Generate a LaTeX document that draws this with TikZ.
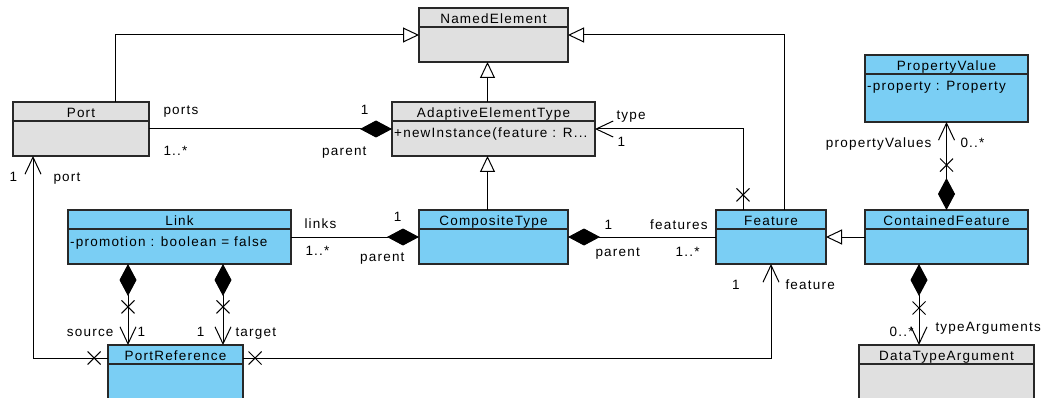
\documentclass[tikz,border=0pt]{standalone}
\usepackage{fontspec}
\setmainfont{Liberation Sans}[LetterSpace=9]
\usepackage{xcolor}
\usetikzlibrary{arrows.meta,positioning,shapes.misc}
\definecolor{classblue}{RGB}{122,206,244}
\definecolor{classgray}{RGB}{224,224,224}
\definecolor{edgegray}{RGB}{40,40,40}
\newcommand{\umlfont}{\fontsize{13.5pt}{15pt}\selectfont}
\tikzset{%
	umlclass/.style   = {draw=edgegray, line width=1.3pt, rectangle, anchor=north west, inner sep=0pt, outer sep=0pt, minimum height=54pt,
		path picture={\draw[edgegray, line width=1.3pt] ([yshift=-19pt]path picture bounding box.north west) -- ([yshift=-19pt]path picture bounding box.north east);}}, % Class box
	blueclass/.style  = {umlclass, fill=classblue},
	grayclass/.style  = {umlclass, fill=classgray},
	classtitle/.style = {anchor=base, yshift=-15.5pt, inner sep=0pt}, % Class name
	classattr/.style  = {anchor=base west, xshift=2pt, yshift=-36pt, inner sep=0pt}, % Attribute
	lbl/.style        = {inner sep=0pt}, % Role and multiplicity
	xmark/.style      = {draw, cross out, minimum size=12pt, inner sep=0pt, line width=1pt}, % Not navigable
	gen/.style        = {line width=1pt, -{Triangle[length=16pt, width=15pt, fill=white]}}, % Generalization
	comp/.style       = {line width=1pt, -{Diamond[length=32pt, width=17pt]}}, % Composition
	comprev/.style    = {line width=1pt, {Diamond[length=32pt, width=17pt]}-}, % Composition
	compnav/.style    = {line width=1pt, {Diamond[length=32pt, width=17pt]}-{Straight Barb[length=17pt, width=16pt]}},
	nav/.style        = {line width=1pt, -{Straight Barb[length=17pt, width=16pt]}}, % Association
}

\begin{document}
\begin{tikzpicture}[x=1pt, y=-1pt, font=\umlfont]
	\useasboundingbox (0,0) rectangle (1048,398);
	% classes
	\node[grayclass, minimum width=149pt, label={[classtitle]north:NamedElement}] (named) at (419,8) {};
	\node[grayclass, minimum width=136pt, label={[classtitle]north:Port}] (port) at (13,102) {};
	\node[grayclass, minimum width=203pt, label={[classtitle]north:AdaptiveElementType}, label={[classattr]north west:{+newInstance(feature : R...}}] (aet) at (392,102) {};
	\node[blueclass, minimum width=149pt, label={[classtitle]north:CompositeType}] (composite) at (419,210) {};
	\node[blueclass, minimum width=110pt, label={[classtitle]north:Feature}] (feature) at (716,210) {};
	\node[blueclass, minimum width=163pt, label={[classtitle]north:ContainedFeature}] (contained) at (865,210) {};
	\node[blueclass, minimum width=163pt, minimum height=67pt, label={[classtitle]north:PropertyValue}, label={[classattr]north west:{-property : Property}}] (propval) at (865,55) {};
	\node[grayclass, minimum width=175pt, minimum height=57pt, label={[classtitle]north:DataTypeArgument}] (dtarg) at (859,345) {};
	\node[blueclass, minimum width=223pt, label={[classtitle]north:Link}, label={[classattr]north west:{-promotion : boolean = false}}] (link) at (68,210) {};
	\node[blueclass, minimum width=135pt, minimum height=57pt, label={[classtitle]north:PortReference}] (portref) at (108,345) {};
	% generalizations
	\draw[gen] ([xshift=34pt]port.north) |- (named.west);
	\draw[gen] ([xshift=13pt]feature.north) |- (named.east);
	\draw[gen] ([xshift=-6pt]aet.north) -- ([xshift=-6pt]named.south);
	\draw[gen] ([xshift=-6pt]composite.north) -- ([xshift=-6pt]aet.south);
	\draw[gen] (contained.west) -- (feature.east);
	% compositions
	\draw[comp] (port.east) -- node[lbl, pos=0, anchor=base west, xshift=14pt, yshift=14pt] {ports}
		node[lbl, pos=0, anchor=base west, xshift=14pt, yshift=-26.7pt] {1..*}
		node[lbl, pos=1, anchor=base east, xshift=-23pt, yshift=14pt] {1}
		node[lbl, pos=1, anchor=base east, xshift=-25pt, yshift=-26.7pt] {parent} (aet.west);
	\draw[comp] (link.east) -- node[lbl, pos=0, anchor=base west, xshift=13pt, yshift=8.7pt] {links}
		node[lbl, pos=0, anchor=base west, xshift=14pt, yshift=-18pt] {1..*}
		node[lbl, pos=1, anchor=base east, xshift=-17pt, yshift=15.3pt] {1}
		node[lbl, pos=1, anchor=base east, xshift=-14pt, yshift=-24.7pt] {parent} (composite.west);
	\draw[comprev] (composite.east) -- node[lbl, pos=0, anchor=base west, xshift=36pt, yshift=8pt] {1}
		node[lbl, pos=0, anchor=base west, xshift=27pt, yshift=-19pt] {parent}
		node[lbl, pos=1, anchor=base east, xshift=-8pt, yshift=8pt] {features}
		node[lbl, pos=1, anchor=base east, xshift=-16pt, yshift=-19pt] {1..*} (feature.west);
	\draw[compnav] (contained.north) -- node[xmark, pos=0.511] {}
		node[lbl, pos=1, anchor=base east, xshift=-14.5pt, yshift=-25.7pt] {propertyValues}
		node[lbl, pos=1, anchor=base west, xshift=13.5pt, yshift=-25.7pt] {0..*} (propval.south);
	\draw[compnav] ([xshift=-27.5pt]contained.south) -- node[xmark, pos=0.543] {}
		node[lbl, pos=1, anchor=base east, xshift=-5pt, yshift=8.3pt] {0..*}
		node[lbl, pos=1, anchor=base west, xshift=16pt, yshift=13.3pt] {typeArguments} ([xshift=-27.5pt]contained.south |- dtarg.north);
	\draw[compnav] ([xshift=60pt]link.south west) -- node[xmark, pos=0.53] {}
		node[lbl, pos=1, anchor=base east, xshift=-14pt, yshift=8.3pt] {source}
		node[lbl, pos=1, anchor=base west, xshift=9pt, yshift=8.3pt] {1} ([xshift=60pt]link.south west |- portref.north);
	\draw[compnav] ([xshift=155pt]link.south west) -- node[xmark, pos=0.53] {}
		node[lbl, pos=1, anchor=base east, xshift=-18pt, yshift=8.3pt] {1}
		node[lbl, pos=1, anchor=base west, xshift=12pt, yshift=8.3pt] {target} ([xshift=155pt]link.south west |- portref.north);
	% associations
	\draw[nav] ([xshift=-28pt]feature.north) |- node[xmark, pos=0.093] {}
		node[lbl, pos=1, anchor=base west, xshift=21pt, yshift=9pt] {type}
		node[lbl, pos=1, anchor=base west, xshift=22pt, yshift=-17.7pt] {1} (aet.east);
	\draw[nav] ([yshift=-13pt]portref.north west) -| node[xmark, pos=0.093] {}
		node[lbl, pos=1, anchor=base west, xshift=-24pt, yshift=-25.7pt] {1}
		node[lbl, pos=1, anchor=base west, xshift=20pt, yshift=-25pt] {port} ([xshift=20pt]port.south west);
	\draw[nav] ([yshift=-13pt]portref.north east) -| node[xmark, pos=0.0114] {}
		node[lbl, pos=1, anchor=base east, xshift=-31pt, yshift=-25.3pt] {1}
		node[lbl, pos=1, anchor=base west, xshift=14pt, yshift=-25pt] {feature} (feature.south);
\end{tikzpicture}
\end{document}
